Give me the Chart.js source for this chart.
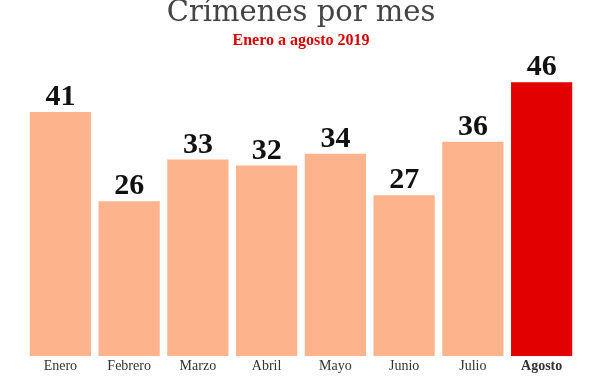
<!DOCTYPE html>
<html><head><meta charset="utf-8">
<script src="https://cdn.jsdelivr.net/npm/chart.js@4/dist/chart.umd.min.js"></script>
<style>html,body{margin:0;padding:0;background:#fff}#wrap{width:600px;height:384px}</style>
</head><body><div id="wrap"><canvas id="c" width="600" height="384"></canvas></div>
<script>
const months = ["Enero","Febrero","Marzo","Abril","Mayo","Junio","Julio","Agosto"];
const crimes = [41,26,33,32,34,27,36,46];
const barColors = ["#FDB38B","#FDB38B","#FDB38B","#FDB38B","#FDB38B","#FDB38B","#FDB38B","#E20000"];
const titleText = "Crímenes por mes";
const subtitleText = "Enero a agosto 2019";

const valueLabels = {
  id:'valueLabels',
  afterDatasetsDraw(chart){
    const ctx = chart.ctx;
    const meta = chart.getDatasetMeta(0);
    ctx.save();
    ctx.font = 'bold 30px "Liberation Serif"';
    ctx.fillStyle = '#111';
    ctx.textAlign = 'center';
    ctx.textBaseline = 'alphabetic';
    meta.data.forEach((bar,i)=>{
      ctx.fillText(String(crimes[i]), bar.x, bar.y - 7);
    });
    ctx.restore();
  }
};

new Chart(document.getElementById('c'), {
  type:'bar',
  data:{labels:months, datasets:[{data:crimes, backgroundColor:barColors, barPercentage:0.89, categoryPercentage:1}]},
  options:{
    responsive:false, animation:false,
    layout:{padding:{left:26,right:24,top:0,bottom:7}},
    plugins:{
      legend:{display:false}, tooltip:{enabled:false},
      title:{display:true, text:titleText, color:'#444', font:{family:'"DejaVu Serif"', size:29, weight:'normal', lineHeight:0.9}, padding:{top:0,bottom:0}},
      subtitle:{display:true, text:subtitleText, color:'#D80000', font:{family:'"Liberation Serif"', size:16, weight:'bold'}, padding:{top:5,bottom:8}}
    },
    scales:{
      x:{grid:{display:false, drawTicks:false}, border:{display:false},
         ticks:{color:'#333', padding:2, font:(c)=>({family:'"Liberation Serif"', size:14, weight: c.index===7?'bold':'normal'})}},
      y:{display:false, min:0, max:50}
    }
  },
  plugins:[valueLabels]
});
</script></body></html>
